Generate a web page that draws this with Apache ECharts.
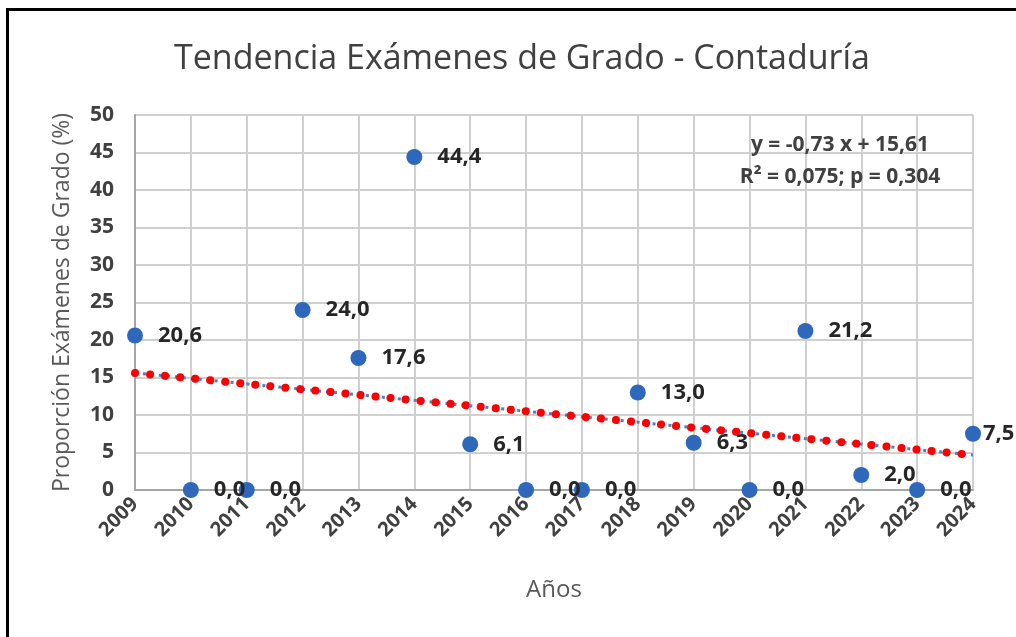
<!DOCTYPE html>
<html>
<head>
<meta charset="utf-8">
<script src="https://cdn.jsdelivr.net/npm/echarts@6/dist/echarts.min.js"></script>
<style>
  html, body { margin: 0; padding: 0; background: #fff; }
  #chart { width: 1016px; height: 637px; }
</style>
</head>
<body>
<div id="chart"></div>
<script>
// Años y proporción de exámenes de grado (%)
const years = [2009, 2010, 2011, 2012, 2013, 2014, 2015, 2016, 2017, 2018, 2019, 2020, 2021, 2022, 2023, 2024];
const proportions = [20.6, 0.0, 0.0, 24.0, 17.6, 44.4, 6.1, 0.0, 0.0, 13.0, 6.3, 0.0, 21.2, 2.0, 0.0, 7.5];

// Recta de tendencia lineal: y = -0,73 x + 15,61 (x = 0 en 2009)
const trendYears = [2009, 2024];
const trendValues = [15.61, 4.66];

const equationLines = ['y = -0,73 x + 15,61', 'R² = 0,075; p = 0,304'];

const FONT = '"Open Sans", Lato, sans-serif';

const chart = echarts.init(document.getElementById('chart'), null, { renderer: 'canvas' });

const scatterData = years.map((y, i) => {
  const item = { value: [y, proportions[i]] };
  // la etiqueta del último año queda pegada al punto, junto al borde
  if (i === years.length - 1) item.label = { distance: 2 };
  return item;
});
const trendData = trendYears.map((y, i) => [y, trendValues[i]]);

chart.setOption({
  backgroundColor: '#ffffff',
  animation: false,
  title: {
    text: 'Tendencia Exámenes de Grado - Contaduría',
    left: 517,
    top: 37,
    textAlign: 'center',
    textStyle: { fontFamily: FONT, fontWeight: 'normal', fontSize: 34, color: '#404040' }
  },
  grid: { left: 135, right: 43, top: 115, bottom: 147 },
  xAxis: {
    type: 'value',
    min: 2009,
    max: 2024,
    interval: 1,
    name: 'Años',
    nameLocation: 'middle',
    nameGap: 88,
    nameTextStyle: { fontFamily: FONT, fontSize: 24, color: '#595959' },
    axisLine: { show: true, lineStyle: { color: '#a6a6a6', width: 2 } },
    axisTick: { show: false },
    splitLine: { show: true, lineStyle: { color: '#d0d0d0', width: 2 } },
    axisLabel: {
      rotate: 45,
      margin: 11,
      fontFamily: FONT,
      fontWeight: 'bold',
      fontSize: 20,
      color: '#404040',
      formatter: v => String(v)
    }
  },
  yAxis: {
    type: 'value',
    min: 0,
    max: 50,
    interval: 5,
    name: 'Proporción Exámenes de Grado (%)',
    nameLocation: 'middle',
    nameGap: 61,
    nameTextStyle: { fontFamily: FONT, fontSize: 23, color: '#595959' },
    axisLine: { show: true, lineStyle: { color: '#a6a6a6', width: 2 } },
    axisTick: { show: false },
    splitLine: { show: true, lineStyle: { color: '#d0d0d0', width: 2 } },
    axisLabel: {
      margin: 21,
      fontFamily: FONT,
      fontWeight: 'bold',
      fontSize: 21,
      color: '#404040'
    }
  },
  series: [
    {
      name: 'tendencia-base',
      type: 'line',
      data: trendData,
      symbol: 'none',
      silent: true,
      z: 2,
      lineStyle: { color: '#4a7fcb', width: 3, type: [3, 5] }
    },
    {
      name: 'tendencia',
      type: 'line',
      data: trendData,
      symbol: 'none',
      silent: true,
      z: 3,
      lineStyle: { color: '#ff0000', width: 8, type: [0.1, 15], cap: 'round' }
    },
    {
      name: 'proporción',
      type: 'scatter',
      data: scatterData,
      symbol: 'circle',
      symbolSize: 16,
      z: 4,
      itemStyle: { color: '#2e68bd', opacity: 1 },
      label: {
        show: true,
        position: 'right',
        distance: 15,
        fontFamily: FONT,
        fontWeight: 'bold',
        fontSize: 22,
        color: '#262626',
        formatter: p => p.value[1].toFixed(1).replace('.', ',')
      }
    }
  ],
  graphic: [
    {
      type: 'rect',
      shape: { x: 7.5, y: 9.5, width: 1100, height: 700 },
      style: { fill: 'none', stroke: '#000000', lineWidth: 3 },
      silent: true
    },
    {
      type: 'text',
      x: 840,
      y: 135,
      style: {
        text: equationLines[0],
        align: 'center',
        fontFamily: FONT,
        fontWeight: 'bold',
        fontSize: 21,
        fill: '#404040'
      },
      z: 10
    },
    {
      type: 'text',
      x: 840,
      y: 167,
      style: {
        text: equationLines[1],
        align: 'center',
        fontFamily: FONT,
        fontWeight: 'bold',
        fontSize: 21,
        fill: '#404040'
      },
      z: 10
    }
  ]
});
</script>
</body>
</html>
